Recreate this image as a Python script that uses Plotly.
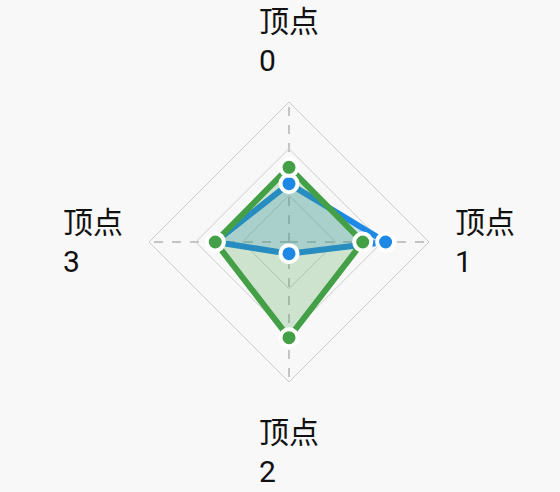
import plotly.graph_objects as go

categories = ["顶点0", "顶点1", "顶点2", "顶点3"]
label_lines = ["顶点<br>0", "顶点<br>1", "顶点<br>2", "顶点<br>3"]
series_blue = [1.25, 2.07, 0.25, 1.58]
series_green = [1.6, 1.58, 2.05, 1.58]

W, H = 560, 492
CX, CY, R = 289, 242, 140  # polar centre / radius in px (layout)

BLUE = "#1E88E5"
GREEN = "#43A047"
BG = "#f8f8f8"

def closed(v):
    return list(v) + [v[0]]

fig = go.Figure()
for vals, col, fillc in [
    (series_blue, BLUE, "rgba(30,136,229,0.22)"),
    (series_green, GREEN, "rgba(67,160,71,0.23)"),
]:
    fig.add_trace(go.Scatterpolar(
        r=closed(vals), theta=closed(categories), mode="lines", fill="toself",
        fillcolor=fillc, line=dict(color=col, width=6),
        hoverinfo="skip", showlegend=False))
for vals, col in [(series_blue, BLUE), (series_green, GREEN)]:
    fig.add_trace(go.Scatterpolar(
        r=vals, theta=categories, mode="markers",
        marker=dict(color=col, size=17, line=dict(color="white", width=4)),
        showlegend=False))

dom_x = [(CX - R) / W, (CX + R) / W]
dom_y = [(H - CY - R) / H, (H - CY + R) / H]

fig.update_layout(
    width=W, height=H,
    margin=dict(l=0, r=0, t=0, b=0),
    paper_bgcolor=BG, plot_bgcolor=BG,
    font=dict(family="Roboto, Noto Sans CJK SC, sans-serif", size=30, color="#111"),
    polar=dict(
        domain=dict(x=dom_x, y=dom_y),
        bgcolor=BG,
        gridshape="linear",
        radialaxis=dict(range=[0, 3], tickvals=[1, 2, 3], showticklabels=False,
                        showline=False, ticks="", gridcolor="#cccccc", gridwidth=1),
        angularaxis=dict(type="category", categoryarray=categories,
                         rotation=90, direction="clockwise",
                         showticklabels=False, ticks="",
                         linecolor="#cccccc", linewidth=1,
                         gridcolor="#c4c4c4", griddash="dash", gridwidth=1.5),
    ),
)

# labels around the radar
pos = [
    dict(x=CX, y=CY - R - 22, xanchor="center", yanchor="bottom"),
    dict(x=CX + R + 24, y=CY, xanchor="left", yanchor="middle"),
    dict(x=CX, y=CY + R + 31, xanchor="center", yanchor="top"),
    dict(x=CX - R - 24, y=CY, xanchor="right", yanchor="middle"),
]
for txt, p in zip(label_lines, pos):
    fig.add_annotation(text=txt, x=p["x"] / W, y=1 - p["y"] / H,
                       xref="paper", yref="paper", showarrow=False,
                       xanchor=p["xanchor"], yanchor=p["yanchor"], align="left",
                       font=dict(size=30))

fig.write_html("out.html")
